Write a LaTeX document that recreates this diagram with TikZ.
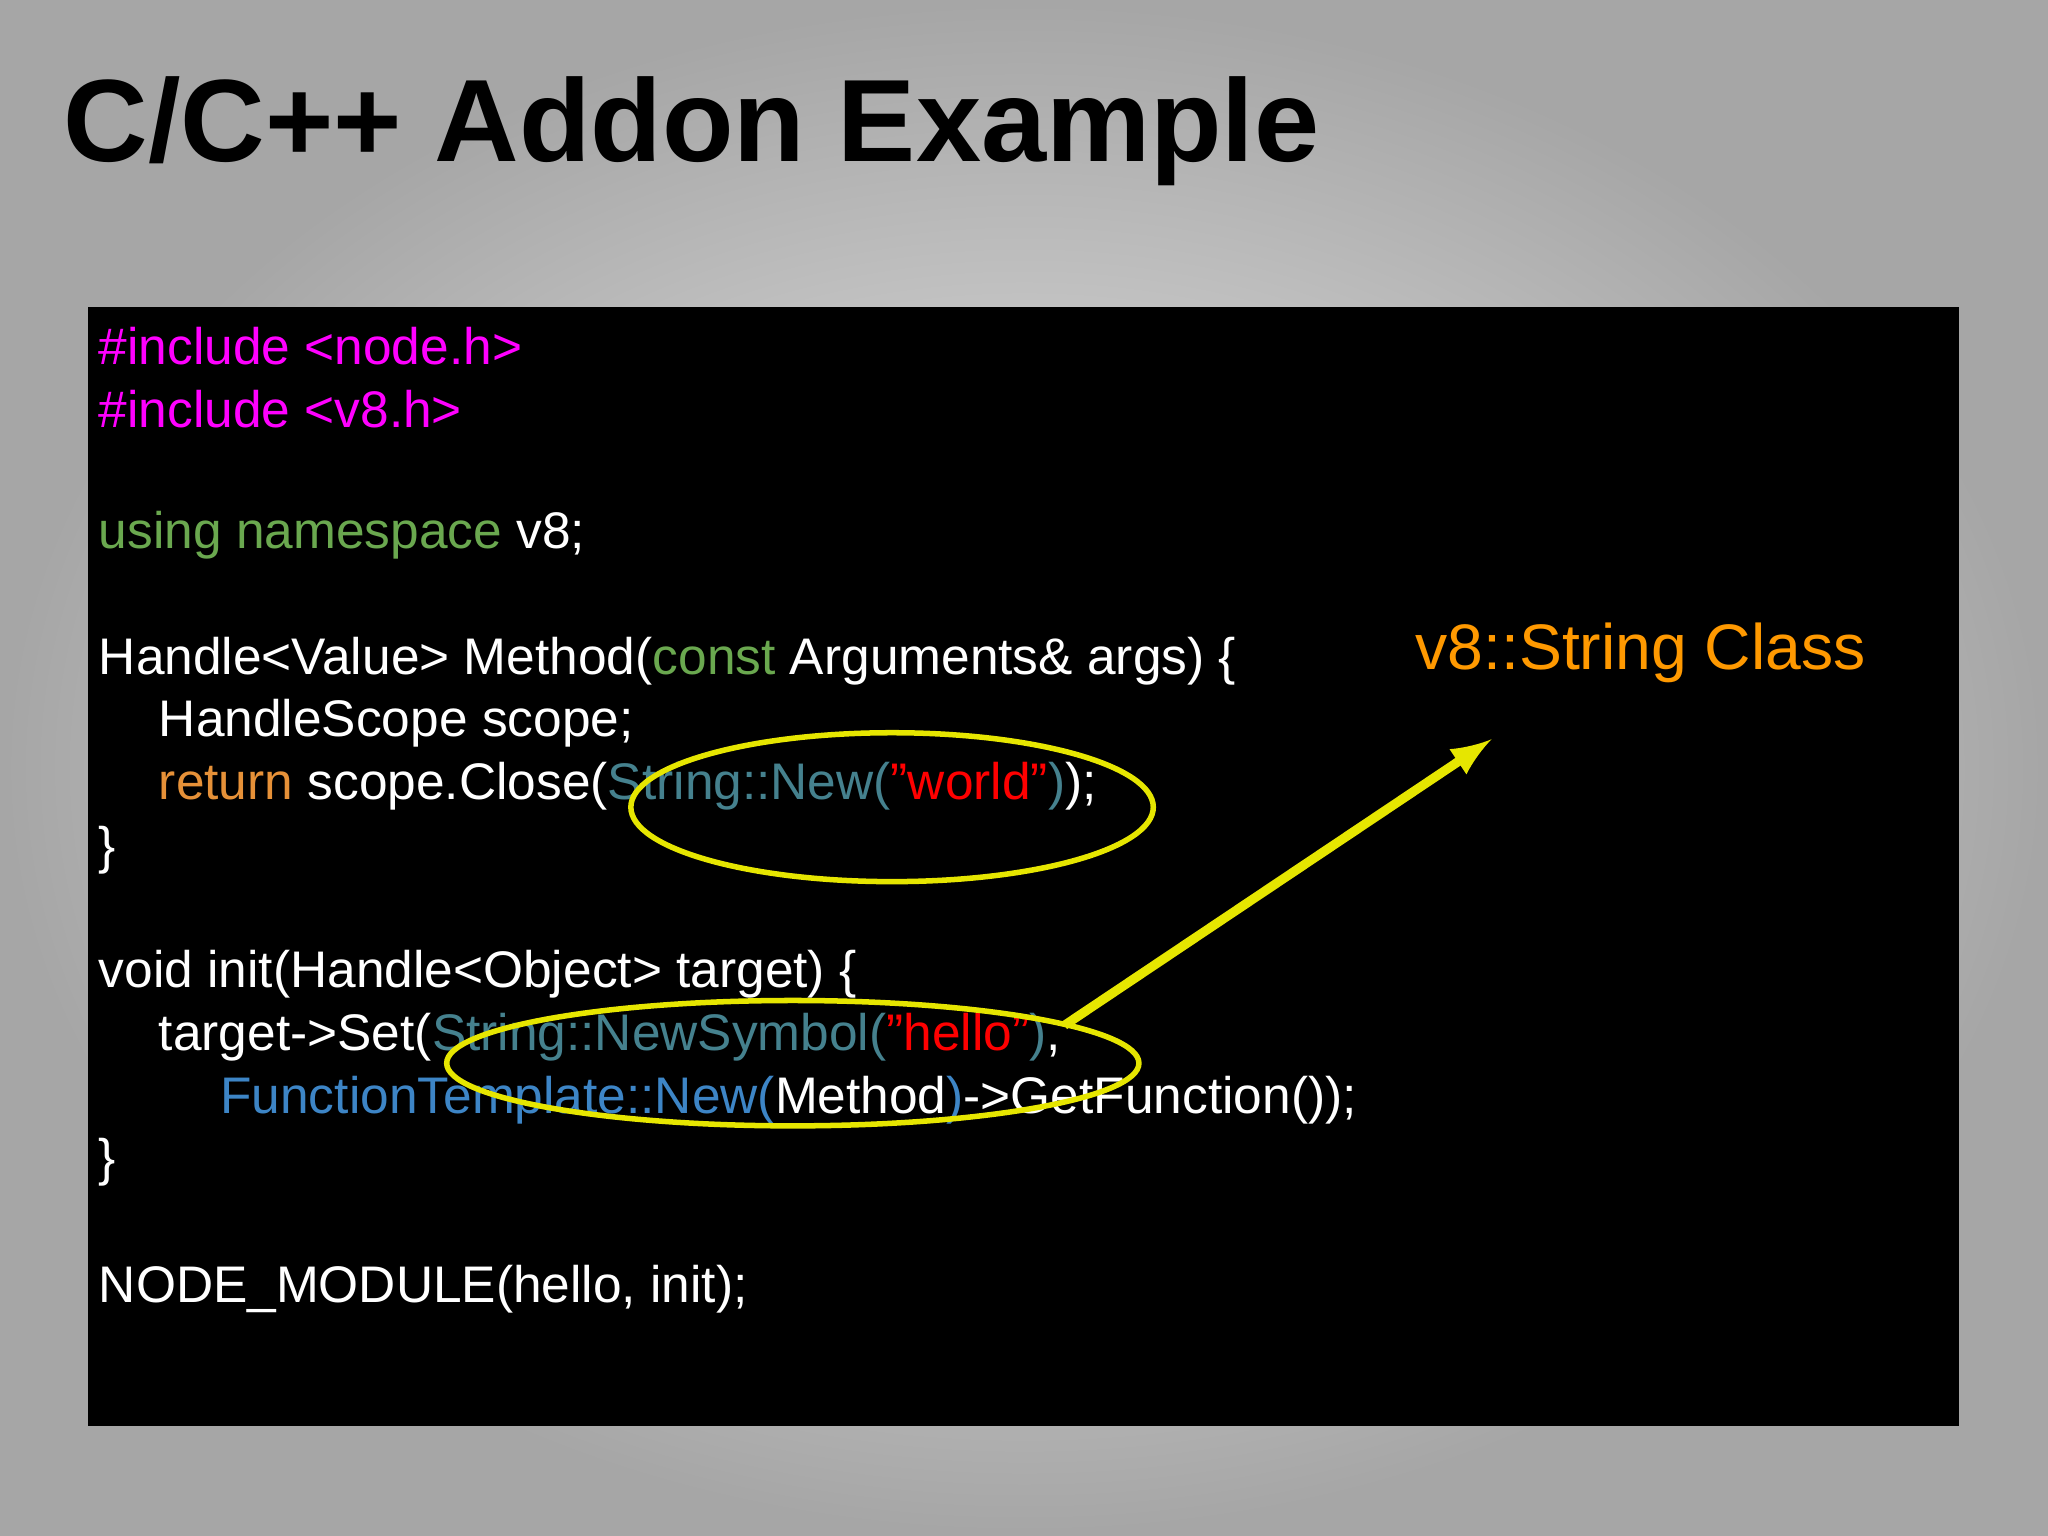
\documentclass[tikz,border=0pt]{standalone}
\usepackage{fontspec}
\setmainfont{Liberation Sans}
\usetikzlibrary{positioning}
\definecolor{incl}{RGB}{255,0,255}
\definecolor{kw}{RGB}{106,168,79}
\definecolor{ret}{RGB}{230,145,56}
\definecolor{cls}{RGB}{69,129,142}
\definecolor{strg}{RGB}{255,0,0}
\definecolor{tmpl}{RGB}{61,133,198}
\definecolor{note}{RGB}{255,153,0}
\definecolor{hilite}{RGB}{230,230,0}

\begin{document}
\begin{tikzpicture}[x=0.01cm,y=-0.01cm,
  codeline/.style={anchor=west,inner sep=0pt,text=white,font=\fontsize{11.2pt}{13pt}\selectfont},
  ring/.style={draw=hilite,line width=1.2pt}]
\shade[inner color=gray!15,outer color=gray!70] (0,0) rectangle (1568,1176);
\node[anchor=base west,inner sep=0pt,font=\fontsize{25.5pt}{30pt}\selectfont\bfseries] (title) at (48,124) {C/C++ Addon Example};
\fill[black] (67,235) rectangle (1500,1092);
\node[codeline] (l1) at (75,265) {\color{incl}\#include <node.h>};
\node[codeline] (l2) at (75,313) {\color{incl}\#include <v8.h>};
\node[codeline] (l3) at (75,410) {{\color{kw}using namespace} v8;};
\node[codeline] (l4) at (75,506) {Handle<Value> Method({\color{kw}const} Arguments\& args) \{};
\node[codeline] (l5) at (121,554) {HandleScope scope;};
\node[codeline] (l6) at (121,602) {{\color{ret}return} scope.Close({\color{cls}String::New(}{\color{strg}"world"}{\color{cls})});};
\node[codeline] (l7) at (75,651) {\}};
\node[codeline] (l8) at (75,746) {void init(Handle<Object> target) \{};
\node[codeline] (l9) at (121,794) {target->Set({\color{cls}String::NewSymbol(}{\color{strg}"hello"}{\color{cls})},};
\node[codeline] (l10) at (168,842) {{\color{tmpl}FunctionTemplate::New(}Method{\color{tmpl})}->GetFunction());};
\node[codeline] (l11) at (75,890) {\}};
\node[codeline] (l12) at (75,987) {NODE\_MODULE(hello, init);};
\node[anchor=west,inner sep=0pt,text=note,font=\fontsize{14pt}{17pt}\selectfont] (label) at (1083,500) {v8::String Class};
\draw[ring] (683,618) ellipse [x radius=200,y radius=57];
\draw[ring] (607,814) ellipse [x radius=265,y radius=48];
\coordinate (from) at (815,785);
\coordinate (to) at (1142,566);
\draw[hilite,line width=2pt,-latex] (from) -- (to);
\end{tikzpicture}
\end{document}
